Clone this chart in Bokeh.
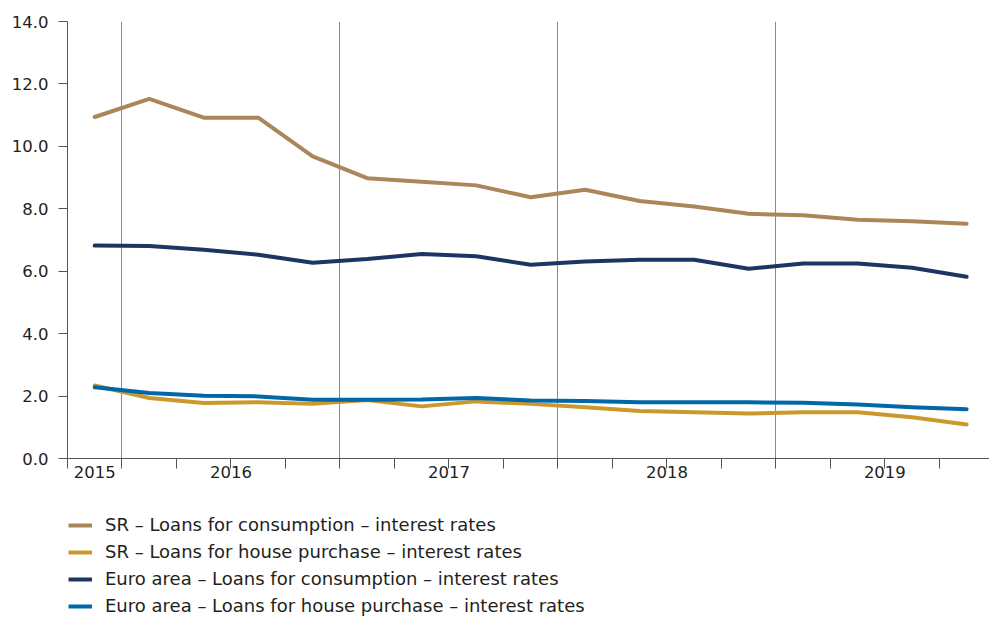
from bokeh.plotting import figure
from bokeh.layouts import column
from bokeh.models import FixedTicker, Legend, LegendItem, Range1d, NumeralTickFormatter
from bokeh.embed import file_html
from bokeh.resources import INLINE

# Quarterly periods: 2015 Q4 .. 2019 Q4
periods = ["2015Q4",
           "2016Q1", "2016Q2", "2016Q3", "2016Q4",
           "2017Q1", "2017Q2", "2017Q3", "2017Q4",
           "2018Q1", "2018Q2", "2018Q3", "2018Q4",
           "2019Q1", "2019Q2", "2019Q3", "2019Q4"]
year_labels = ["2015", "2016", "2017", "2018", "2019"]

sr_consumption = [10.94, 11.52, 10.92, 10.92, 9.68, 8.98, 8.87, 8.75, 8.37,
                  8.61, 8.25, 8.07, 7.84, 7.79, 7.65, 7.60, 7.52]
sr_house = [2.34, 1.94, 1.78, 1.80, 1.75, 1.87, 1.67, 1.83, 1.75,
            1.64, 1.52, 1.48, 1.44, 1.48, 1.48, 1.32, 1.09]
ea_consumption = [6.82, 6.81, 6.69, 6.53, 6.27, 6.39, 6.55, 6.48, 6.21,
                  6.31, 6.37, 6.37, 6.08, 6.25, 6.25, 6.11, 5.82]
ea_house = [2.28, 2.10, 2.01, 1.99, 1.88, 1.88, 1.89, 1.94, 1.86,
            1.84, 1.80, 1.80, 1.80, 1.79, 1.73, 1.64, 1.58]

series_names = ["SR \u2013 Loans for consumption \u2013 interest rates",
                "SR \u2013 Loans for house purchase \u2013 interest rates",
                "Euro area \u2013 Loans for consumption \u2013 interest rates",
                "Euro area \u2013 Loans for house purchase \u2013 interest rates"]
colors = ["#AB865A", "#CC982E", "#1C3664", "#0067A9"]
series = [sr_consumption, sr_house, ea_consumption, ea_house]

n = len(periods)
x = [i + 0.5 for i in range(n)]

year_of = [p[:4] for p in periods]
year_centers = []
for y in year_labels:
    idx = [i for i, yy in enumerate(year_of) if yy == y]
    year_centers.append((idx[0] + idx[-1] + 1) / 2.0)
year_bounds = [i for i in range(1, n) if year_of[i] != year_of[i - 1]]

FONT = "DejaVu Sans"
FS = "16.5px"
LFS = "18px"
TXT = "#231F20"
AX = "#555555"

p = figure(width=989, height=485, output_backend="svg", toolbar_location=None,
           x_range=Range1d(0, 16.92), y_range=Range1d(0, 14),
           min_border_left=67, min_border_right=0, min_border_top=21, min_border_bottom=27)
p.outline_line_color = None
p.background_fill_color = "white"
p.border_fill_color = "white"

for vals, c in zip(series, colors):
    p.line(x, vals, line_color=c, line_width=4, line_join="round", line_cap="round")

xa = p.xaxis[0]
xa.ticker = FixedTicker(ticks=year_centers, minor_ticks=list(range(0, n + 1)))
xa.major_label_overrides = {c: l for c, l in zip(year_centers, year_labels)}
xa.major_tick_line_color = None
xa.major_tick_out = 0
xa.major_tick_in = 0
xa.minor_tick_out = 10
xa.minor_tick_in = 0
xa.minor_tick_line_color = AX
xa.axis_line_color = AX
xa.major_label_text_font = FONT
xa.major_label_text_font_size = FS
xa.major_label_text_color = TXT
xa.major_label_standoff = -3

ya = p.yaxis[0]
ya.ticker = FixedTicker(ticks=[0, 2, 4, 6, 8, 10, 12, 14])
ya.formatter = NumeralTickFormatter(format="0.0")
ya.major_tick_out = 9
ya.major_tick_in = 0
ya.minor_tick_line_color = None
ya.major_tick_line_color = AX
ya.axis_line_color = AX
ya.major_label_text_font = FONT
ya.major_label_text_font_size = FS
ya.major_label_text_color = TXT
ya.major_label_standoff = 10

p.ygrid.grid_line_color = None
p.xgrid.ticker = FixedTicker(ticks=year_bounds)
p.xgrid.grid_line_color = "#8A8A8A"
p.xgrid.grid_line_width = 1

# legend panel below the chart (series lines kept outside its visible range)
p2 = figure(width=989, height=132, output_backend="svg", toolbar_location=None,
            x_range=Range1d(0, 1), y_range=Range1d(100, 101),
            x_axis_location=None, y_axis_location=None,
            min_border_left=0, min_border_right=0, min_border_top=0, min_border_bottom=0)
p2.outline_line_color = None
p2.xgrid.visible = False
p2.ygrid.visible = False
leg_renderers = [p2.line(x, vals, line_color=c, line_width=4) for vals, c in zip(series, colors)]

legend = Legend(items=[LegendItem(label=nm, renderers=[r]) for nm, r in zip(series_names, leg_renderers)],
                location=(1, 1), orientation="vertical",
                margin=0, padding=0, spacing=6,
                glyph_width=24, glyph_height=20, label_height=20,
                label_standoff=13,
                label_text_font=FONT, label_text_font_size=LFS, label_text_color=TXT,
                border_line_color=None, background_fill_alpha=0)
p2.add_layout(legend, "center")

open("out.html", "w").write(file_html(column(p, p2, spacing=0), INLINE))
